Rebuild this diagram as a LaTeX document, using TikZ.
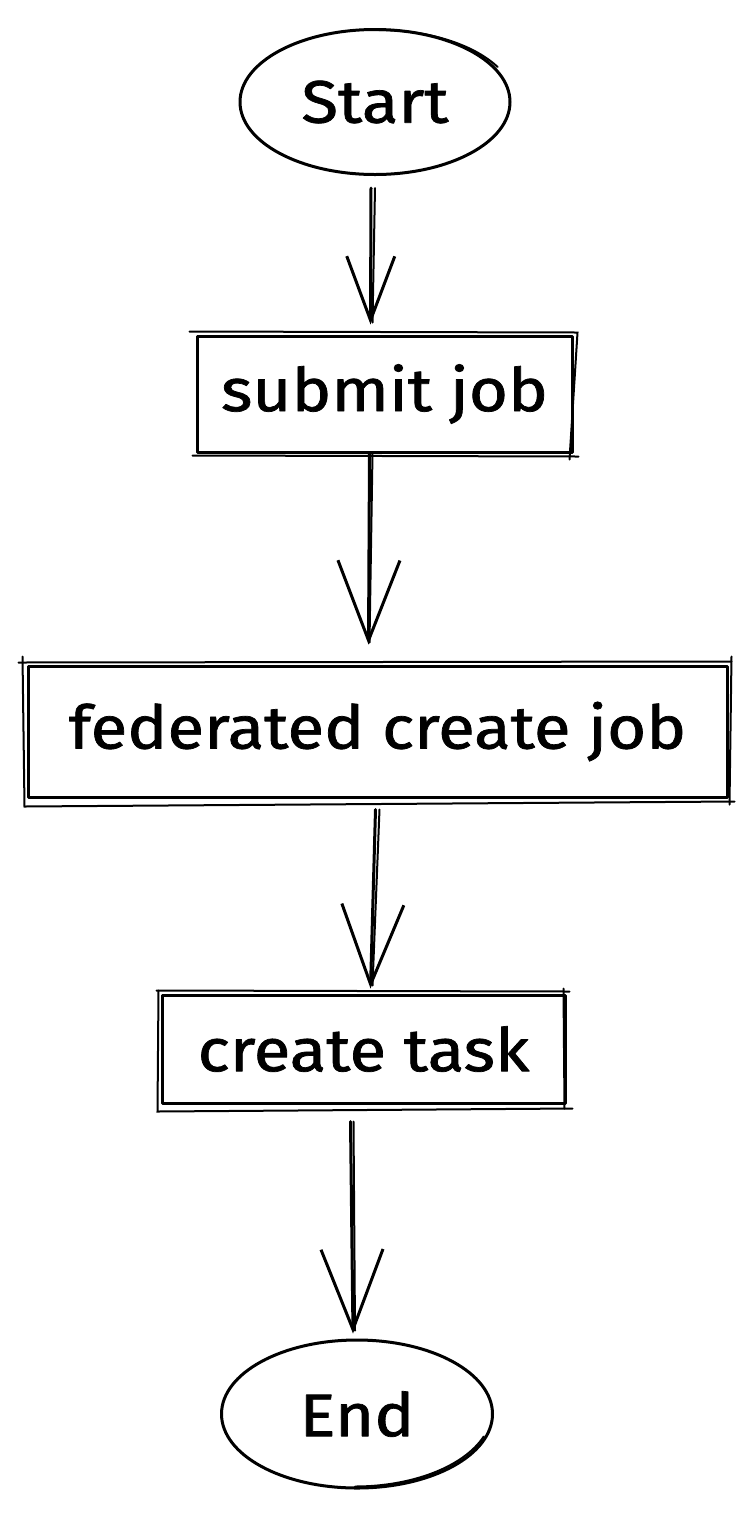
\documentclass[tikz,border=0pt]{standalone}
\usepackage{fontspec}
\setmainfont{Fira Sans}[FakeStretch=1.12,FakeBold=1.2]
\usetikzlibrary{arrows.meta,shapes.geometric,calc}
\begin{document}
\begin{tikzpicture}[x=1pt,y=-1pt,
  sk/.style={line width=3pt, line cap=round, line join=round},
  thin/.style={line width=2pt, line cap=round},
  boxnode/.style={sk, draw, rectangle, inner sep=0pt, font=\fontsize{60}{62}\selectfont},
  ellnode/.style={sk, draw, ellipse, inner sep=0pt, font=\fontsize{60}{62}\selectfont},
  arr/.style={sk, -{Straight Barb[length=80pt,width=62pt,line width=3pt]}},
  arrs/.style={sk, -{Straight Barb[length=64pt,width=48pt,line width=3pt]}}
]
\useasboundingbox[fill=white] (0,0) rectangle (754,1519);

\node[ellnode, minimum width=270, minimum height=145] (start) at (375,102) {Start};
\node[boxnode, minimum width=375, minimum height=116] (submit) at (384.5,394) {submit job};
\node[boxnode, minimum width=699, minimum height=131] (fed) at (377.5,731.5) {federated create job};
\node[boxnode, minimum width=403, minimum height=108] (task) at (363.5,1049) {create task};
\node[ellnode, minimum width=271, minimum height=148] (end) at (357,1414) {End};

% sketchy second strokes
\draw[thin] ([shift={(4,2)}]start.north) arc[start angle=270,end angle=330,x radius=137,y radius=74];
\draw[thin] ([shift={(-2,-3)}]end.south) arc[start angle=90,end angle=20,x radius=137,y radius=76];
\draw[thin] ([shift={(-6,-3)}]submit.north west) -- ([shift={(4,-2)}]submit.north east) -- ([shift={(-4,6)}]submit.south east);
\draw[thin] ([shift={(-3,2)}]submit.south west) -- ([shift={(5,3)}]submit.south east);
\draw[thin] ([shift={(-8,-2)}]fed.north west) -- ([shift={(3,-3)}]fed.north east);
\draw[thin] ([shift={(-4,-8)}]fed.north west) -- ([shift={(-2,8)}]fed.south west) -- ([shift={(6,3)}]fed.south east);
\draw[thin] ([shift={(3,-8)}]fed.north east) -- ([shift={(1,6)}]fed.south east);
\draw[thin] ([shift={(-4,-3)}]task.north west) -- ([shift={(3,-2)}]task.north east);
\draw[thin] ([shift={(-2,-3)}]task.north west) -- ([shift={(-3,7)}]task.south west) -- ([shift={(6,4)}]task.south east);
\draw[thin] ([shift={(-3,-5)}]task.north east) -- ([shift={(-2,4)}]task.south east);

% connectors
\draw[arrs] ([shift={(-4,12)}]start.south) -- ([shift={(-14,-10)}]submit.north);
\draw[thin] ([shift={(0,12)}]start.south) -- ([shift={(-12,-12)}]submit.north);
\draw[arr] ([shift={(-15,0)}]submit.south) -- ([shift={(-9,-20)}]fed.north);
\draw[thin] ([shift={(-12,0)}]submit.south) -- ([shift={(-8,-22)}]fed.north);
\draw[arr] ([shift={(-2,11)}]fed.south) -- ([shift={(7,-5)}]task.north);
\draw[thin] ([shift={(2,11)}]fed.south) -- ([shift={(9,-8)}]task.north);
\draw[arr] ([shift={(-13,17)}]task.south) -- ([shift={(-4,-5)}]end.north);
\draw[thin] ([shift={(-10,17)}]task.south) -- ([shift={(-2,-8)}]end.north);
\end{tikzpicture}
\end{document}
